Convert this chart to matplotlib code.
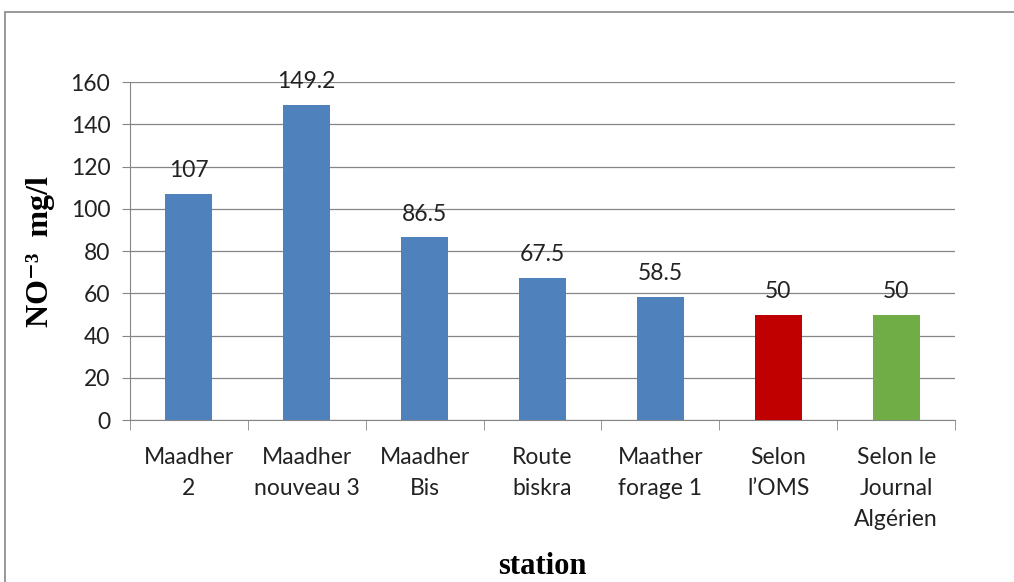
import matplotlib.pyplot as plt
from matplotlib.patches import Rectangle
import numpy as np

stations = ["Maadher\n2", "Maadher\nnouveau 3", "Maadher\nBis", "Route\nbiskra",
            "Maather\nforage 1", "Selon\nl\u2019OMS", "Selon le\nJournal\nAlg\u00e9rien"]
values = [107, 149.2, 86.5, 67.5, 58.5, 50, 50]
value_labels = ["107", "149.2", "86.5", "67.5", "58.5", "50", "50"]
colors = ["#4f81bd"] * 5 + ["#c00000", "#70ad47"]

grey = "#868686"
plt.rcParams['font.family'] = ['Lato', 'DejaVu Sans']

fig = plt.figure(figsize=(10.14, 5.82), dpi=100)
ax = fig.add_axes([0.128, 0.278, 0.814, 0.581])

# chart border
fig.patches.append(Rectangle((5 / 1014, -0.1), 1.2, 1.1 - 12 / 582,
                             transform=fig.transFigure, fill=False,
                             edgecolor=grey, linewidth=1.2))

x = np.arange(len(stations))
ax.bar(x, values, width=0.4, color=colors, zorder=3)
for xi, v, lab in zip(x, values, value_labels):
    ax.text(xi, v + 6, lab, ha='center', va='bottom', fontsize=16.5, color='#222222')

ax.set_xlim(-0.5, len(stations) - 0.5)
ax.set_ylim(0, 160)
ax.set_yticks(range(0, 161, 20))
ax.yaxis.grid(True, color=grey, linewidth=0.9, zorder=0)

ax.set_xticks(x)
ax.set_xticklabels(stations, fontsize=16.5, color='#222222', linespacing=1.6)
ax.set_xticks(np.arange(-0.5, len(stations), 1), minor=True)
ax.tick_params(axis='x', which='major', length=0, pad=19)
ax.tick_params(axis='x', which='minor', length=7, color=grey, direction='out')
ax.tick_params(axis='y', length=6, color=grey, labelsize=16.5, labelcolor='#222222', pad=8)

for s in ['top', 'right']:
    ax.spines[s].set_visible(False)
ax.spines['left'].set_color(grey)
ax.spines['bottom'].set_color(grey)

ax.set_ylabel("NO\u207b\u00b3  mg/l", fontsize=23, fontweight='bold',
              family=['Liberation Serif', 'DejaVu Serif'], labelpad=11)
ax.set_xlabel("station", fontsize=22, fontweight='bold',
              family=['Liberation Serif', 'DejaVu Serif'], labelpad=16)

fig.savefig("out.png", dpi=100)
